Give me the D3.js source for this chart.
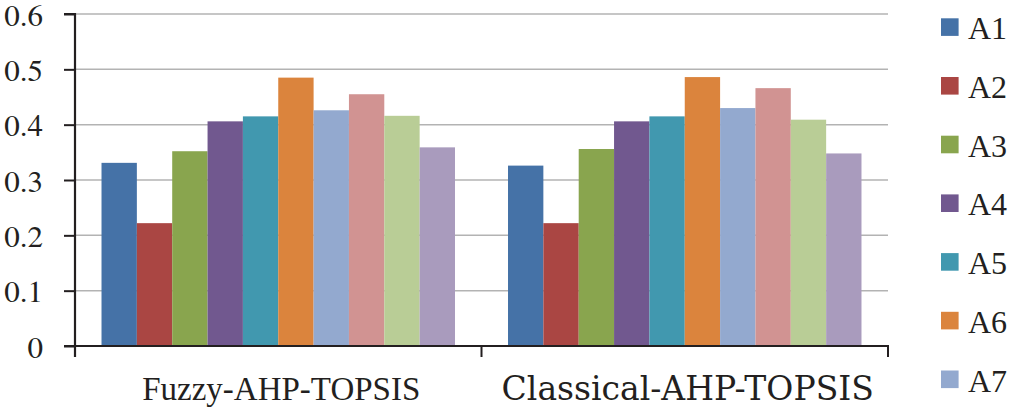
<!DOCTYPE html>
<html>
<head>
<meta charset="utf-8">
<script src="https://cdn.jsdelivr.net/npm/d3@7"></script>
<style>
  html, body { margin: 0; padding: 0; background: #fff; }
  #wrap { position: relative; width: 1009px; height: 410px; overflow: hidden; }
  svg { display: block; }
  .lg { position: absolute; font-family: "Liberation Serif"; font-size: 32px; color: #231f20; line-height: 1; white-space: nowrap; }
</style>
</head>
<body>
<div id="wrap"><svg id="chart" width="1009" height="410"></svg></div>
<script>
const categories = ["Fuzzy-AHP-TOPSIS", "Classical-AHP-TOPSIS"];
const seriesNames = ["A1", "A2", "A3", "A4", "A5", "A6", "A7", "A8", "A9", "A10"];
const fuzzyValues = [0.331, 0.222, 0.352, 0.406, 0.415, 0.485, 0.426, 0.455, 0.416, 0.359];
const classicalValues = [0.326, 0.222, 0.356, 0.406, 0.415, 0.486, 0.430, 0.466, 0.409, 0.348];
const yTicks = [0, 0.1, 0.2, 0.3, 0.4, 0.5, 0.6];
const colors = ["#4572A7", "#AA4643", "#89A54E", "#71588F", "#4198AF", "#DB843D", "#93A9CF", "#D19392", "#B9CD96", "#A99BBD"];

const valuesByCategory = [fuzzyValues, classicalValues];
const ink = "#231f20";
const H = 410;

const svg = d3.select("#chart");
const pLeft = 75, pRight = 888, pTop = 14, pBottom = 346;

const y = d3.scaleLinear().domain([0, 0.6]).range([pBottom, pTop]);
const x0 = d3.scaleBand().domain(categories).range([pLeft, pRight]).paddingInner(0).paddingOuter(0);
const x1 = d3.scaleBand().domain(seriesNames).range([0, x0.bandwidth()]).paddingInner(0).paddingOuter(0.75);

svg.append("g").selectAll("line").data(yTicks.filter(d => d > 0)).join("line")
  .attr("x1", pLeft).attr("x2", pRight)
  .attr("y1", d => y(d)).attr("y2", d => y(d))
  .attr("stroke", "#b3b3b3").attr("stroke-width", 1.5);

const groups = svg.append("g").selectAll("g").data(categories).join("g")
  .attr("transform", d => `translate(${x0(d)},0)`);
groups.selectAll("rect")
  .data((d, i) => seriesNames.map((s, j) => ({ s, v: valuesByCategory[i][j], c: colors[j] })))
  .join("rect")
  .attr("x", d => x1(d.s))
  .attr("width", x1.bandwidth())
  .attr("y", d => y(d.v))
  .attr("height", d => y(0) - y(d.v))
  .attr("fill", d => d.c);

const yAxis = d3.axisLeft(y).tickValues(yTicks).tickSize(11).tickPadding(21)
  .tickFormat(d => d === 0 ? "0" : d3.format(".1f")(d));
const gy = svg.append("g").attr("transform", `translate(${pLeft},0)`).call(yAxis);
gy.attr("font-family", null).attr("font-size", null);
gy.select(".domain").attr("stroke", ink).attr("stroke-width", 2.2).attr("d", `M-11,${pTop}H0V${pBottom + 11}`);
gy.selectAll(".tick line").attr("stroke", ink).attr("stroke-width", 2);
gy.selectAll(".tick text")
  .style("font-family", '"FreeSerif", monospace').attr("font-size", 31)
  .attr("fill", ink).attr("dy", null).attr("y", 11);

const xBounds = [pLeft].concat(categories.map(c => x0(c) + x0.bandwidth()));
svg.append("line").attr("x1", pLeft - 11).attr("x2", pRight + 1)
  .attr("y1", pBottom).attr("y2", pBottom)
  .attr("stroke", ink).attr("stroke-width", 2.2);
svg.append("g").selectAll("line").data(xBounds).join("line")
  .attr("x1", d => d).attr("x2", d => d)
  .attr("y1", pBottom).attr("y2", pBottom + 11)
  .attr("stroke", ink).attr("stroke-width", 2);
const xFonts = ['"Tinos", monospace', '"DejaVu Serif", monospace'];
svg.append("g").selectAll("text").data(categories).join("text")
  .attr("x", d => x0(d) + x0.bandwidth() / 2 + 3)
  .attr("y", 400)
  .attr("text-anchor", "middle")
  .style("font-family", (d, i) => xFonts[i]).attr("font-size", 33)
  .attr("fill", ink)
  .text(d => d);

// legend
const legStep = 58.7, legTop = 18.3;
const legItems = seriesNames.filter((d, i) => legTop + i * legStep + 24 <= H);
const leg = svg.append("g").selectAll("g").data(legItems).join("g")
  .attr("transform", (d, i) => `translate(941,${legTop + i * legStep})`);
leg.append("rect").attr("width", 17.6).attr("height", 17.6).attr("fill", (d, i) => colors[i]);
d3.select("#wrap").selectAll("div.lg").data(legItems).join("div")
  .attr("class", "lg")
  .style("left", "968px")
  .style("top", (d, i) => (legTop + i * legStep - 6) + "px")
  .text(d => d);
</script>
</body>
</html>
